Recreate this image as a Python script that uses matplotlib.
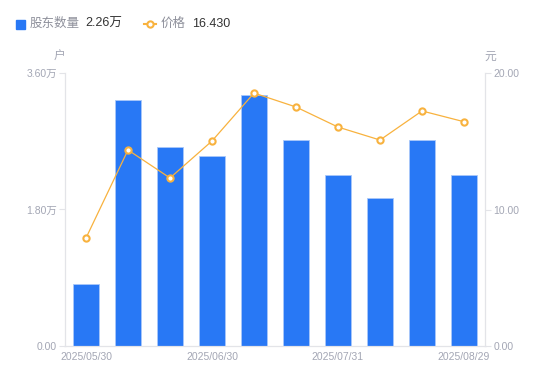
import numpy as np
import matplotlib
matplotlib.use('Agg')
import matplotlib.pyplot as plt
from matplotlib.lines import Line2D

plt.rcParams['font.family'] = ['Liberation Sans', 'Noto Sans CJK SC']

# data
dates = ['2025/05/30', '', '', '2025/06/30', '', '', '2025/07/31', '', '', '2025/08/29']
holders = [0.82, 3.24, 2.62, 2.51, 3.31, 2.72, 2.26, 1.95, 2.72, 2.26]   # 万户
price = [7.91, 14.36, 12.31, 15.02, 18.53, 17.51, 16.04, 15.09, 17.22, 16.43]

bar_color = '#2878F5'
line_color = '#F8B23E'
tick_color = '#A3A6B4'
axis_color = '#E3E4E8'

fig = plt.figure(figsize=(5.5, 3.81), dpi=100)
ax = fig.add_axes([65/550, 35/381, 420/550, 273/381])
ax2 = ax.twinx()

x = np.arange(len(holders))
ax.bar(x, holders, width=0.6, color=bar_color, edgecolor='#A9C8FA', linewidth=0.6, zorder=2)
ax2.plot(x, price, color=line_color, lw=0.9, marker='o', ms=4.5, mfc='white',
         mec=line_color, mew=1.5, zorder=3)

ax.set_xlim(-0.5, len(holders) - 0.5)
ax.set_ylim(0, 3.6)
ax2.set_ylim(0, 20)

ax.set_yticks([0, 1.8, 3.6])
ax.set_yticklabels(['0.00', '1.80万', '3.60万'])
ax2.set_yticks([0, 10, 20])
ax2.set_yticklabels(['0.00', '10.00', '20.00'])
ax.set_xticks(x)
ax.set_xticklabels(dates)

for a in (ax, ax2):
    for s in a.spines.values():
        s.set_color(axis_color)
        s.set_linewidth(0.8)
    a.spines['top'].set_visible(False)
    a.tick_params(axis='y', colors=axis_color, labelcolor=tick_color, labelsize=7.5,
                  length=4, width=0.8, pad=2)
ax.tick_params(axis='x', length=0, labelcolor=tick_color, labelsize=7.5, pad=4)

ax.text(-0.014, 1.059, '户', transform=ax.transAxes, fontsize=8.5, color=tick_color,
        ha='center', va='center')
ax2.text(1.012, 1.059, '元', transform=ax2.transAxes, fontsize=8.5, color=tick_color,
         ha='center', va='center')

# legend on top
fig.patches.append(plt.Rectangle((16/550, 1 - 29/381), 9/550, 9/381, transform=fig.transFigure,
                                 color=bar_color, figure=fig))
fig.text(30/550, 1 - 24/381, '股东数量', fontsize=9, color='#8E909B', va='center')
fig.text(85/550, 1 - 24/381, '2.26万', fontsize=9, color='#333333', va='center')
fig.lines.append(Line2D([144/550, 156/550], [1 - 24/381, 1 - 24/381], transform=fig.transFigure,
                        color=line_color, lw=1.5, figure=fig))
fig.lines.append(Line2D([150/550], [1 - 24/381], transform=fig.transFigure, color=line_color,
                        marker='o', ms=4.5, mfc='white', mew=1.5, figure=fig))
fig.text(161/550, 1 - 24/381, '价格', fontsize=9, color='#8E909B', va='center')
fig.text(192/550, 1 - 24/381, '16.430', fontsize=9, color='#333333', va='center')

fig.savefig('out.png', dpi=100)
